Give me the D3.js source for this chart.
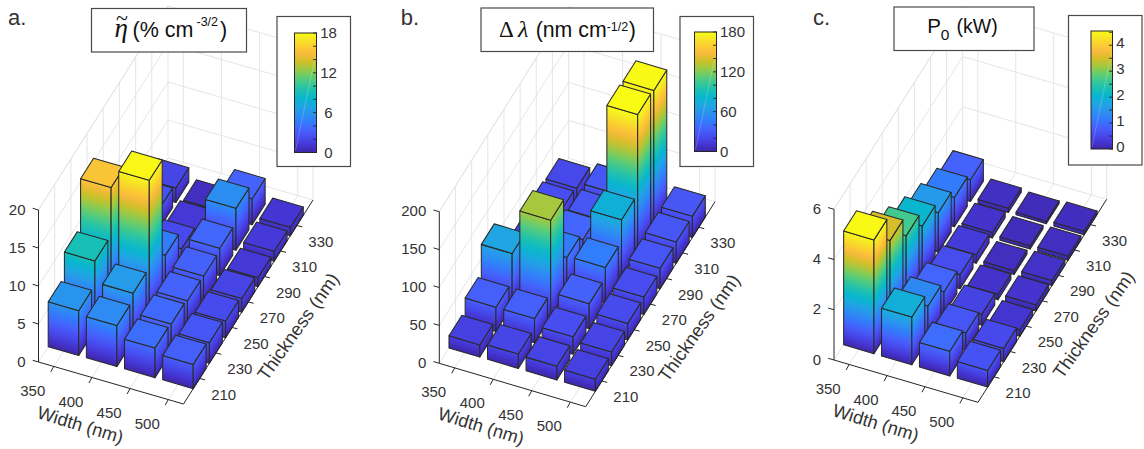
<!DOCTYPE html>
<html><head><meta charset="utf-8">
<style>html,body{margin:0;padding:0;background:#fff}svg{display:block}text{font-family:"Liberation Sans",Arial,sans-serif}</style>
<script src="https://cdn.jsdelivr.net/npm/d3@7/dist/d3.min.js"></script></head><body>
<svg id="c" width="1144" height="449"></svg>
<script>
const widths=[350,400,450,500];
const thicknesses=[210,230,250,270,290,310,330];
// rows: thickness 210..330, columns: width 350..500
const etaValues=[[5.9,5.4,3.9,3.2],[9.1,6.3,3.7,2.7],[15.4,17.8,3.4,2.2],[4,4.6,3.3,1.8],[3,2.1,3.6,1.2],[2.6,1.2,5.5,1.3],[1.9,0.6,3.4,1.1]];
const lambdaValues=[[16,19,18,16],[32,32,23,18],[69,128,33,22],[25,45,47,23],[18,35,76,27],[23,28,181,28],[20,28,179,28]];
const powerValues=[[4.53,1.9,0.98,0.66],[3.5,1.33,0.7,0.53],[2.67,0.89,0.44,0.26],[2.05,0.56,0.22,0.24],[1.57,0.34,0.15,0.2],[1.17,0.22,0.13,0.16],[0.86,0.17,0.1,0.14]];
const etaZTicks=[0,5,10,15,20], lambdaZTicks=[0,50,100,150,200], powerZTicks=[0,2,4,6];
const etaBarTicks=[0,6,12,18], lambdaBarTicks=[0,60,120,180], powerBarTicks=[0,1,2,3,4];
const parula=["#3e26a8","#4537d5","#474df0","#4563fd","#327bfc","#2b91ef","#20a5e3","#08b5d0","#18bfb6","#37c897","#63cd6f","#9dc943","#d1bf27","#f8ba3d","#fccf30","#f5e924","#f9fb15"];
const parulaPos=parula.map((_,k)=>Math.min(1,k*4/63));

const svg=d3.select("#c"), defs=svg.append("defs");
let gid=0;
const ink="#262626", textInk="#333", grid="#e2e2e2", boxInk="#4a4a4a";

function panel(cfg){
  const {A,front,right,zPx,zTicks,values,cmax,barTicks,barMinor}=cfg;
  const g=svg.append("g");
  const sx=d3.scaleLinear().domain([-0.4,3.4]).range([0,1]);
  const sy=d3.scaleLinear().domain([-1,7]).range([0,1]);
  const sz=d3.scaleLinear().domain([0,zTicks[zTicks.length-1]]).range([0,zPx]);
  const P=(i,j,z)=>{const a=sx(i),b=sy(j);return [A[0]+a*(front[0]-A[0])+b*(right[0]-front[0]),A[1]+a*(front[1]-A[1])+b*(right[1]-front[1])-sz(z)];};
  const color=d3.scaleLinear().domain(parulaPos.map(t=>t*cmax)).range(parula).clamp(true);
  const line=(a,b,st,w)=>g.append("line").attr("x1",a[0]).attr("y1",a[1]).attr("x2",b[0]).attr("y2",b[1]).attr("stroke",st).attr("stroke-width",w);
  const zTop=zTicks[zTicks.length-1];
  // walls and floor grid
  zTicks.forEach(z=>{line(P(-0.4,-1,z),P(-0.4,7,z),grid,.9);line(P(-0.4,7,z),P(3.4,7,z),grid,.9);});
  widths.forEach((_,i)=>{line(P(i,-1,0),P(i,7,0),grid,.9);line(P(i,7,0),P(i,7,zTop),grid,.9);});
  thicknesses.forEach((_,j)=>{line(P(-0.4,j,0),P(3.4,j,0),grid,.9);line(P(-0.4,j,0),P(-0.4,j,zTop),grid,.9);});
  [[-0.4,7],[3.4,7]].forEach(c=>line(P(c[0],c[1],0),P(c[0],c[1],zTop),grid,.9));
  line(P(-0.4,-1,zTop),P(-0.4,7,zTop),grid,.9);
  // bars: painter's order, far to near
  const face=(pts,fill)=>g.append("polygon").attr("points",pts.map(p=>p.join(",")).join(" ")).attr("fill",fill).attr("stroke","#2a2a2a").attr("stroke-width",1.05).attr("stroke-linejoin","round");
  function grad(p0,e,h){ // iso-colour lines parallel to the horizontal edge e
    const id="g"+(gid++);
    const n=[e[1],-e[0]], vy=-(P(0,0,0)[1]-P(0,0,h)[1]);
    const t=(vy*n[1])/(n[0]*n[0]+n[1]*n[1]);
    const lg=defs.append("linearGradient").attr("id",id).attr("gradientUnits","userSpaceOnUse")
      .attr("x1",p0[0]).attr("y1",p0[1]).attr("x2",p0[0]+n[0]*t).attr("y2",p0[1]+n[1]*t);
    d3.range(0,19).forEach(k=>{const f=k/18;lg.append("stop").attr("offset",f).attr("stop-color",color(h*f));});
    return `url(#${id})`;
  }
  for(let j=thicknesses.length-1;j>=0;j--){
    for(let i=0;i<widths.length;i++){
      const h=values[j][i],x0=i-.4,x1=i+.4,y0=j-.4,y1=j+.4;
      const a=P(x0,y0,0),b=P(x1,y0,0),c=P(x1,y1,0),A1=P(x0,y0,h),B1=P(x1,y0,h),C1=P(x1,y1,h),D1=P(x0,y1,h);
      face([a,b,B1,A1],grad(a,[b[0]-a[0],b[1]-a[1]],h));
      face([b,c,C1,B1],grad(b,[c[0]-b[0],c[1]-b[1]],h));
      face([A1,B1,C1,D1],color(h));
    }
  }
  // axes
  line(P(-0.4,-1,0),P(-0.4,-1,zTop),ink,1);
  line(P(-0.4,-1,0),P(3.4,-1,0),ink,1);
  line(P(3.4,-1,0),P(3.4,7,0),ink,1);
  const txt=(x,y,s,anchor,size)=>g.append("text").attr("x",x).attr("y",y).attr("text-anchor",anchor||"middle").attr("dominant-baseline","central").attr("font-size",size||15).attr("fill",textInk).text(s);
  zTicks.forEach(z=>{const p=P(-0.4,-1,z);line(p,[p[0]-5.8,p[1]-1.7],ink,1);txt(A[0]-13,p[1]-1,z,"end");});
  widths.forEach((w,i)=>{const p=P(i,-1,0);line(p,[p[0]-3,p[1]+5.5],ink,1);txt(p[0]-21,p[1]+23.6,w);});
  thicknesses.forEach((w,j)=>{const p=P(3.4,j,0);line(p,[p[0]+5.4,p[1]+1.3],ink,1);txt(p[0]+24,p[1]+15.5,w);});
  g.append("text").attr("transform",`translate(${A[0]+41.7},${A[1]+63})rotate(17)`).attr("text-anchor","middle").attr("dominant-baseline","central").attr("font-size",18.2).attr("fill",textInk).text("Width (nm)");
  g.append("text").attr("transform",`translate(${A[0]+259.5},${A[1]-35.5})rotate(-54.6)`).attr("text-anchor","middle").attr("dominant-baseline","central").attr("font-size",18.5).attr("fill",textInk).text("Thickness (nm)");
  // panel letter
  g.append("text").attr("x",cfg.letter[0]).attr("y",cfg.letter[1]).attr("font-size",22).attr("fill",textInk).text(cfg.letter[2]);
  // title box
  const tb=cfg.titleBox;
  g.append("rect").attr("x",tb[0]).attr("y",tb[1]).attr("width",tb[2]-tb[0]).attr("height",tb[3]-tb[1]).attr("fill","#fff").attr("stroke",boxInk).attr("stroke-width",1.2);
  const tt=g.append("text").attr("fill","#111");
  cfg.title.forEach(p=>{const s=tt.append("tspan").text(p.t).attr("x",p.x).attr("y",p.y).attr("font-size",p.size);if(p.serif)s.attr("font-family","Liberation Serif");if(p.italic)s.attr("font-style","italic");});
  // colour bar
  const cb=cfg.cbBox, bar=cfg.bar;
  g.append("rect").attr("x",cb[0]).attr("y",cb[1]).attr("width",cb[2]-cb[0]).attr("height",cb[3]-cb[1]).attr("fill","#fff").attr("stroke",boxInk).attr("stroke-width",1.2);
  const id="cb"+(gid++), lg=defs.append("linearGradient").attr("id",id).attr("x1",0).attr("y1",1).attr("x2",0).attr("y2",0);
  parula.forEach((c,k)=>lg.append("stop").attr("offset",parulaPos[k]).attr("stop-color",c));
  g.append("rect").attr("x",bar[0]).attr("y",bar[1]).attr("width",bar[2]-bar[0]).attr("height",bar[3]-bar[1]).attr("fill",`url(#${id})`);
  line([bar[0]+1,bar[3]-2],[bar[2]-1,bar[1]+22],"rgba(255,255,255,.3)",.7);
  g.append("rect").attr("x",bar[0]).attr("y",bar[1]).attr("width",bar[2]-bar[0]).attr("height",bar[3]-bar[1]).attr("fill","none").attr("stroke",ink).attr("stroke-width",1);
  const cy=d3.scaleLinear().domain([0,cmax]).range([bar[3],bar[1]]);
  barMinor.forEach(v=>line([bar[2]+.5,cy(v)],[bar[2]-3.5,cy(v)],ink,0.9));
  barTicks.forEach(v=>txt(cfg.barLabel[1],cy(v)+cfg.barLabel[2],v,cfg.barLabel[0],15));
}
panel({A:[38.5,362],front:[183.5,404],right:[313,200],zPx:152,zTicks:etaZTicks,values:etaValues,cmax:18,barTicks:etaBarTicks,barMinor:d3.range(0,19,2),barLabel:["middle",328.5,-0.5],
  letter:[8,25,"a."],titleBox:[91.5,8.5,246.5,52],cbBox:[277,16.5,350.5,166.5],bar:[294.5,33,316.5,152.5],
  title:[{t:"η",x:114.5,y:37.3,size:27,serif:true,italic:true},{t:"~",x:116,y:25,size:22,serif:true},{t:"(% cm",x:132.5,y:37.3,size:21.5},{t:"-3/2",x:196.5,y:25.7,size:12.5},{t:")",x:220,y:37.3,size:21.5}]});
panel({A:[439.3,363.3],front:[585.7,406.7],right:[715,201.7],zPx:151.6,zTicks:lambdaZTicks,values:lambdaValues,cmax:180,barTicks:lambdaBarTicks,barMinor:d3.range(0,181,20),barLabel:["start",720,-0.5],
  letter:[400.7,25,"b."],titleBox:[481,8,653.5,51.5],cbBox:[680,16.5,753.5,166.5],bar:[694.5,32,716.5,151.5],
  title:[{t:"Δ",x:499,y:36.7,size:23,serif:true},{t:"λ",x:518,y:36.7,size:24,serif:true,italic:true},{t:"(nm cm",x:535.7,y:36.7,size:21.3},{t:"-1/2",x:606.7,y:31,size:12.5},{t:")",x:628.7,y:36.7,size:21.3}]});
panel({A:[834,360],front:[978,402.3],right:[1106.7,199.3],zPx:150.7,zTicks:powerZTicks,values:powerValues,cmax:4.55,barTicks:powerBarTicks,barMinor:d3.range(0,4.6,.5),barLabel:["middle",1120.3,-2.5],
  letter:[813,25,"c."],titleBox:[894,7,1034,50.5],cbBox:[1068.5,15.5,1142,165],bar:[1091,31,1112.5,149],
  title:[{t:"P",x:927.3,y:33.3,size:20.5},{t:"0",x:940.7,y:39.5,size:15.5},{t:"(kW)",x:956.5,y:33.3,size:19.5}]});
</script></body></html>
